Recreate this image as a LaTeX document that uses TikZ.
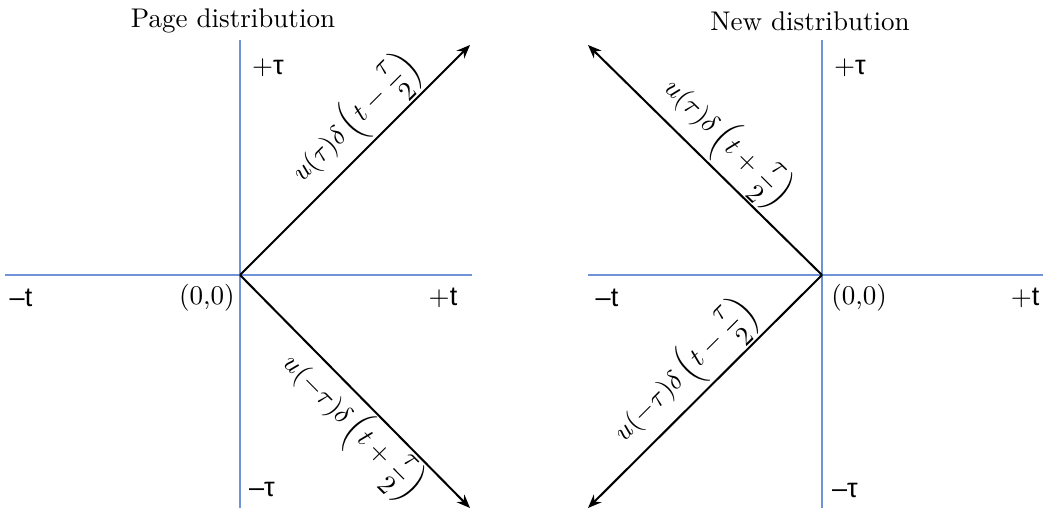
\documentclass[tikz,border=0pt]{standalone}
\usepackage{amsmath}
\usepackage{fontspec}
\usetikzlibrary{arrows.meta,positioning}
\newfontfamily\axisfont{Liberation Sans}
\definecolor{axisblue}{HTML}{6F93D6}

\begin{document}
\begin{tikzpicture}[x=0.37pt, y=-0.37pt,
  axis/.style={draw=axisblue, line width=0.45pt},
  arr/.style={-{Stealth[length=5pt, width=4pt]}, line width=0.75pt},
  fn/.style={font=\normalsize, inner sep=0.5pt, sloped},
  tick/.style={inner sep=1pt},
  ttl/.style={font=\normalsize}
]
\useasboundingbox (0,0) rectangle (1043,510);

% Page distribution
\coordinate (p0) at (240,275);
\coordinate (pw) at (5,275);
\coordinate (pe) at (472,275);
\coordinate (pn) at (240,40);
\coordinate (ps) at (240,508);
\coordinate (pup) at (470,45);
\coordinate (pdn) at (470,508);
\node[ttl] (ttlp) at (233,21) {Page distribution};
\draw[axis] (pw) -- (pe);
\draw[axis] (pn) -- (ps);
\draw[arr] (p0) -- (pup) node[fn, above, pos=0.59] {$u(\tau)\delta\left(t-\dfrac{\tau}{2}\right)$};
\draw[arr] (p0) -- (pdn) node[fn, below, pos=0.57] {$u(-\tau)\delta\left(t+\dfrac{\tau}{2}\right)$};
\node[tick] (ptp) at (268,68) {$+${\axisfont τ}};
\node[tick] (ptm) at (262,489) {{\axisfont –τ}};
\node[tick] (pxm) at (21,298) {{\axisfont –t}};
\node[tick, anchor=east] (po) at (238,298) {(0,0)};
\node[tick] (pxp) at (443,298) {$+${\axisfont t}};

% New distribution
\coordinate (n0) at (822,275);
\coordinate (nw) at (588,275);
\coordinate (ne) at (1043,275);
\coordinate (nn) at (822,40);
\coordinate (ns) at (822,508);
\coordinate (nup) at (588,45);
\coordinate (ndn) at (588,508);
\node[ttl] (ttln) at (810,21) {New distribution};
\draw[axis] (nw) -- (ne);
\draw[axis] (nn) -- (ns);
\draw[arr] (n0) -- (nup) node[fn, above, pos=0.49] {$u(\tau)\delta\left(t+\dfrac{\tau}{2}\right)$};
\draw[arr] (n0) -- (ndn) node[fn, above, pos=0.5] {$u(-\tau)\delta\left(t-\dfrac{\tau}{2}\right)$};
\node[tick] (ntp) at (850,68) {$+${\axisfont τ}};
\node[tick] (ntm) at (845,490) {{\axisfont –τ}};
\node[tick] (nxm) at (607,298) {{\axisfont –t}};
\node[tick, anchor=west] (no) at (828,298) {(0,0)};
\node[tick] (nxp) at (1025,298) {$+${\axisfont t}};
\end{tikzpicture}
\end{document}
